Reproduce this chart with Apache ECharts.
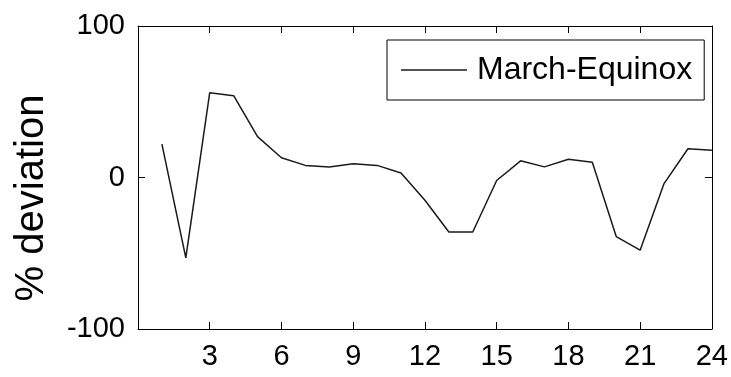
<!DOCTYPE html>
<html>
<head>
<meta charset="utf-8">
<script src="https://cdn.jsdelivr.net/npm/echarts@6/dist/echarts.min.js"></script>
<style>html,body{margin:0;padding:0;background:#fff}#c{width:731px;height:377px}</style>
</head>
<body>
<div id="c"></div>
<script>
const hours = [1,2,3,4,5,6,7,8,9,10,11,12,13,14,15,16,17,18,19,20,21,22,23,24];
const marchEquinox = [22,-53,56,54,27,13,8,7,9,8,3,-15,-36,-36,-2,11,7,12,10,-39,-48,-4,19,18];
const xTicks = [3,6,9,12,15,18,21,24];
const yTicks = [-100,0,100];
const seriesName = 'March-Equinox';
const yName = '% deviation';

const font = 'Liberation Sans, Arial, sans-serif';
const chart = echarts.init(document.getElementById('c'));
const axisCommon = {
  axisLine: {show: true, onZero: false, lineStyle: {color: '#000', width: 1}},
  axisTick: {show: true, inside: true, length: 7, lineStyle: {color: '#000'}},
  splitLine: {show: false}
};
chart.setOption({
  animation: false,
  backgroundColor: '#fff',
  grid: {left: 138, right: 18, top: 26, bottom: 48, show: false},
  legend: {
    data: [{name: seriesName, icon: 'rect'}],
    left: 387, top: 40,
    padding: [11, 12, 11, 14],
    itemWidth: 66, itemHeight: 1.5,
    borderColor: '#000', borderWidth: 1, borderRadius: 0,
    backgroundColor: '#fff',
    itemStyle: {color: '#1a1a1a'},
    textStyle: {fontFamily: font, fontSize: 32, lineHeight: 38, color: '#000', padding: [0, 0, 0, 5]}
  },
  graphic: [{
    type: 'text', x: 32, y: 198, rotation: Math.PI / 2,
    style: {text: yName, fontFamily: font, fontSize: 40, fill: '#000', align: 'center', verticalAlign: 'middle'}
  }],
  xAxis: [
    Object.assign({}, axisCommon, {
      type: 'value', min: 0, max: 24, interval: 3, position: 'bottom',
      axisLabel: {fontFamily: font, fontSize: 29, color: '#000', margin: 13,
        formatter: v => xTicks.indexOf(v) >= 0 ? String(v) : ''}
    }),
    Object.assign({}, axisCommon, {
      type: 'value', min: 0, max: 24, interval: 3, position: 'top',
      axisLabel: {show: false}
    })
  ],
  yAxis: [
    Object.assign({}, axisCommon, {
      type: 'value', min: -100, max: 100, interval: 100, position: 'left',
      axisLabel: {fontFamily: font, fontSize: 29, color: '#000', margin: 13,
        formatter: v => yTicks.indexOf(v) >= 0 ? String(v) : ''}
    }),
    Object.assign({}, axisCommon, {
      type: 'value', min: -100, max: 100, interval: 100, position: 'right',
      axisLabel: {show: false}
    })
  ],
  series: [{
    name: seriesName, type: 'line', symbol: 'none',
    data: hours.map((h, i) => [h, marchEquinox[i]]),
    lineStyle: {color: '#1a1a1a', width: 1.5},
    itemStyle: {color: '#1a1a1a'}
  }]
});
</script>
</body>
</html>
